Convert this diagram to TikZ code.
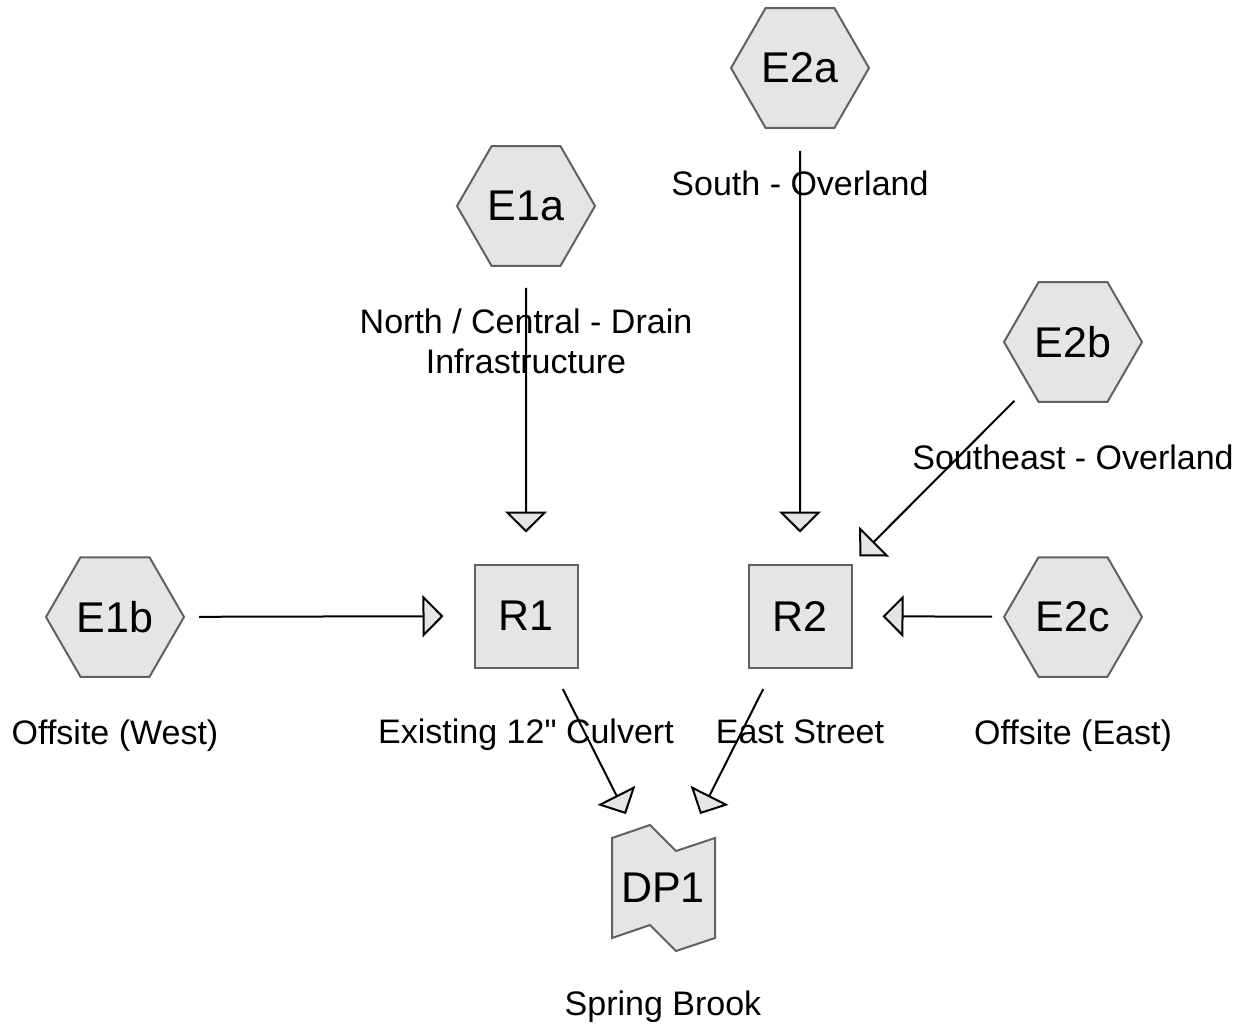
\documentclass[tikz,border=0pt]{standalone}
\usepackage{fontspec}
\setmainfont{Liberation Sans}[Ligatures=TeXOff]
\usetikzlibrary{arrows.meta,shapes.geometric,calc}
\colorlet{boxfill}{black!10}
\colorlet{boxline}{black!62}
\tikzstyle{flow}=[line width=2pt,-{Triangle[length=21pt,width=42pt,fill=boxfill]}]
\tikzstyle{basin}=[regular polygon,regular polygon sides=6,minimum size=138pt,inner sep=0,
	draw=boxline,fill=boxfill,line width=2pt,font=\fontsize{43}{50}\selectfont]
\tikzstyle{reach}=[rectangle,minimum size=103pt,inner sep=0,
	draw=boxline,fill=boxfill,line width=2pt,font=\fontsize{43}{50}\selectfont]
\tikzstyle{outfall}=[rectangle,minimum width=104pt,minimum height=126pt,inner sep=0,
	font=\fontsize{43}{50}\selectfont]
\tikzstyle{lbl}=[anchor=base,inner sep=0,align=center,font=\fontsize{34}{40}\selectfont]

\begin{document}
\begin{tikzpicture}[x=1pt,y=-1pt]
	\useasboundingbox (0,0) rectangle (1246,1027);
	
	\def\dy{127}      % label baseline below node centre
	
	% SUBBASINS
	\node[basin] (E1a) at (526,206) {E1a};
	\node[basin] (E1b) at (115,617) {E1b};
	\node[basin] (E2a) at (800,68)  {E2a};
	\node[basin] (E2b) at (1073,342) {E2b};
	\node[basin] (E2c) at (1073,617) {E2c};
	
	% REACHES
	\node[reach] (R1) at (526,616) {R1};
	\node[reach] (R2) at (800,616) {R2};
	
	% DESIGN POINT
	\coordinate (dp) at (663,888);
	\draw[draw=boxline,fill=boxfill,line width=2pt,line join=miter]
	($(dp)+(-51,-50)$) -- ($(dp)+(-13,-63)$) -- ($(dp)+(13,-37)$) -- ($(dp)+(52,-50)$)
	-- ($(dp)+(52,50)$) -- ($(dp)+(13,63)$) -- ($(dp)+(-13,37)$) -- ($(dp)+(-51,50)$) -- cycle;
	\node[outfall] (DP1) at (dp) {DP1};
	
	% LABELS
	\node[lbl,anchor=north] (E1a-txt) at ($(E1a)+(0,103)$) {North / Central - Drain\\Infrastructure};
	\node[lbl] (E1b-txt) at ($(E1b)+(0,\dy)$) {Offsite (West)};
	\node[lbl] (E2a-txt) at ($(E2a)+(0,\dy)$) {South - Overland};
	\node[lbl] (E2b-txt) at ($(E2b)+(0,\dy)$) {Southeast - Overland};
	\node[lbl] (E2c-txt) at ($(E2c)+(0,\dy)$) {Offsite (East)};
	\node[lbl] (R1-txt) at ($(R1)+(0,\dy)$) {Existing 12" Culvert};
	\node[lbl] (R2-txt) at ($(R2)+(0,\dy)$) {East Street};
	\node[lbl] (DP1-txt) at ($(DP1)+(0,\dy)$) {Spring Brook};
	
	% FLOWS
	\draw[flow,shorten <=21pt,shorten >=31pt] (E1a) -- (R1);
	\draw[flow,shorten <=14pt,shorten >=30pt] (E1b) -- (R1);
	\draw[flow,shorten <=22pt,shorten >=31pt] (E2a) -- (R2);
	\draw[flow,shorten <=20pt,shorten >=10pt] (E2b) -- (R2);
	\draw[flow,shorten <=11pt,shorten >=30pt] (E2c) -- (R2);
	\draw[flow,shorten <=23pt,shorten >=12pt] (R1) -- (DP1);
	\draw[flow,shorten <=23pt,shorten >=12pt] (R2) -- (DP1);
	
\end{tikzpicture}
\end{document}
